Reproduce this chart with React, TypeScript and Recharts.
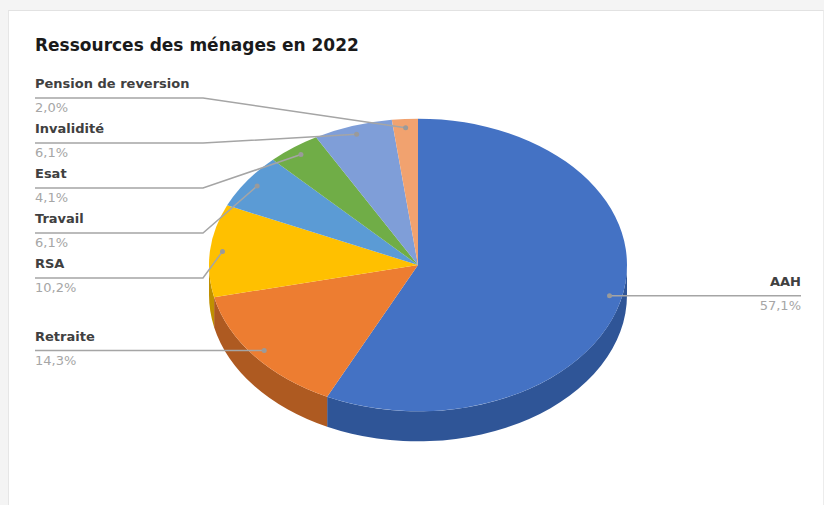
import React from "react";
import { Pie, PieChart } from "recharts";

const categories = ["AAH", "Retraite", "RSA", "Travail", "Esat", "Invalidité", "Pension de reversion"];
const shares = [57.1, 14.3, 10.2, 6.1, 4.1, 6.1, 2.0];
const topColors = ["#4472c4", "#ed7d31", "#ffc000", "#5b9bd5", "#70ad47", "#7f9ed8", "#f1a26f"];
const sideColors = ["#2f5597", "#ae5a21", "#bf9000", "#41719c", "#507e32", "#5b76a8", "#b9764f"];

const W = 824;
const H = 505;
const CX = 418;
const CY = 265;
const RX = 209;
const RY_RATIO = 0.7;
const DEPTH = 30;
const DOT_R = 0.94;
const LEFT_X = 35;
const LEFT_BEND = 203;
const RIGHT_X = 801;
const LEFT_TOP = 98;
const LABEL_STEP = 45;
const RAD = Math.PI / 180;
const FONT = "'DejaVu Sans', Verdana, sans-serif";

const pieData = categories.map((name, i) => ({
  name,
  value: shares[i],
  fill: topColors[i],
  side: sideColors[i],
}));

const fmtPct = (v: number) => v.toFixed(1).replace(".", ",") + "%";

// where the leader lines sit, worked out from the slice mid angles
const total = shares.reduce((a, b) => a + b, 0);
const midAngles: number[] = [];
{
  let acc = 0;
  shares.forEach((v) => {
    midAngles.push(90 - ((acc + v / 2) / total) * 360);
    acc += v;
  });
}
const naturalY = midAngles.map((a) => CY - DOT_R * RX * RY_RATIO * Math.sin(a * RAD));
const onLeft = midAngles.map((a) => Math.cos(a * RAD) < 0);
const lineY: number[] = [...naturalY];
{
  const order = categories.map((_, i) => i).filter((i) => onLeft[i]).sort((a, b) => naturalY[a] - naturalY[b]);
  order.forEach((idx, k) => {
    lineY[idx] = k === 0 ? Math.min(LEFT_TOP, naturalY[idx]) : Math.max(lineY[order[k - 1]] + LABEL_STEP, naturalY[idx]);
  });
}

const pt = (cx: number, cy: number, rx: number, ry: number, a: number) => [
  cx + rx * Math.cos(a * RAD),
  cy - ry * Math.sin(a * RAD),
];

function TopShape(props: any) {
  const { cx, cy, outerRadius, startAngle, endAngle, fill } = props;
  const rx = outerRadius;
  const ry = outerRadius * RY_RATIO;
  const [x1, y1] = pt(cx, cy, rx, ry, startAngle);
  const [x2, y2] = pt(cx, cy, rx, ry, endAngle);
  const large = Math.abs(startAngle - endAngle) > 180 ? 1 : 0;
  const d = `M${cx},${cy} L${x1},${y1} A${rx},${ry} 0 ${large} 1 ${x2},${y2} Z`;
  return <path d={d} fill={fill} stroke="none" />;
}

function SideShape(props: any) {
  const { cx, cy, outerRadius, startAngle, endAngle } = props;
  const side = props.side ?? props.payload?.side ?? "#555";
  const rx = outerRadius;
  const ry = outerRadius * RY_RATIO;
  const hi = Math.min(Math.max(startAngle, endAngle), 0);
  const lo = Math.max(Math.min(startAngle, endAngle), -180);
  if (lo >= hi) return <g />;
  const [x1, y1] = pt(cx, cy, rx, ry, hi);
  const [x2, y2] = pt(cx, cy, rx, ry, lo);
  const large = hi - lo > 180 ? 1 : 0;
  const d =
    `M${x1},${y1} A${rx},${ry} 0 ${large} 1 ${x2},${y2} ` +
    `L${x2},${y2 + DEPTH} A${rx},${ry} 0 ${large} 0 ${x1},${y1 + DEPTH} Z`;
  return <path d={d} fill={side} stroke="none" />;
}

function renderLabel(props: any) {
  const { cx, cy, outerRadius, midAngle } = props;
  const name = props.name ?? props.payload?.name;
  const i = categories.indexOf(name);
  if (i < 0) return null;
  const [dx, dy] = pt(cx, cy, outerRadius * DOT_R, outerRadius * RY_RATIO * DOT_R, midAngle);
  const y = lineY[i];
  const left = onLeft[i];
  const points = left
    ? `${LEFT_X},${y} ${LEFT_BEND},${y} ${dx},${dy}`
    : `${RIGHT_X},${y} ${dx},${dy}`;
  const tx = left ? LEFT_X : RIGHT_X;
  const anchor = left ? "start" : "end";
  return (
    <g key={`lbl-${i}`}>
      <polyline points={points} fill="none" stroke="#a5a5a5" strokeWidth={1.5} />
      <circle cx={dx} cy={dy} r={2.5} fill="#9a9a9a" />
      <text x={tx} y={y - 10} textAnchor={anchor} fontFamily={FONT} fontSize={13} fontWeight="bold" fill="#404040">
        {name}
      </text>
      <text x={tx} y={y + 14} textAnchor={anchor} fontFamily={FONT} fontSize={13} fill="#a6a6a6">
        {fmtPct(shares[i])}
      </text>
    </g>
  );
}

export default function App() {
  return (
    <div style={{ position: "relative", width: W, height: H, background: "#f4f4f4", overflow: "hidden" }}>
      <style>{"body{margin:0}"}</style>
      <div
        style={{
          position: "absolute",
          left: 8,
          top: 10,
          width: 814,
          height: 500,
          background: "#ffffff",
          borderLeft: "1px solid #e6e6e6",
          borderTop: "1px solid #e2e2e2",
          borderRight: "1px solid #ececec",
        }}
      />
      <div
        style={{
          position: "absolute",
          left: 35,
          top: 37,
          fontFamily: FONT,
          fontSize: 17,
          fontWeight: "bold",
          lineHeight: 1,
          color: "#1a1a1a",
          whiteSpace: "nowrap",
        }}
      >
        Ressources des ménages en 2022
      </div>
      <div style={{ position: "absolute", left: 0, top: 0 }}>
        <PieChart width={W} height={H} margin={{ top: 0, right: 0, bottom: 0, left: 0 }}>
          <Pie
            data={pieData}
            dataKey="value"
            nameKey="name"
            cx={CX}
            cy={CY}
            outerRadius={RX}
            startAngle={90}
            endAngle={-270}
            stroke="none"
            shape={SideShape}
            labelLine={false}
            isAnimationActive={false}
          />
          <Pie
            data={pieData}
            dataKey="value"
            nameKey="name"
            cx={CX}
            cy={CY}
            outerRadius={RX}
            startAngle={90}
            endAngle={-270}
            stroke="none"
            shape={TopShape}
            labelLine={false}
            label={renderLabel}
            isAnimationActive={false}
          />
        </PieChart>
      </div>
    </div>
  );
}
